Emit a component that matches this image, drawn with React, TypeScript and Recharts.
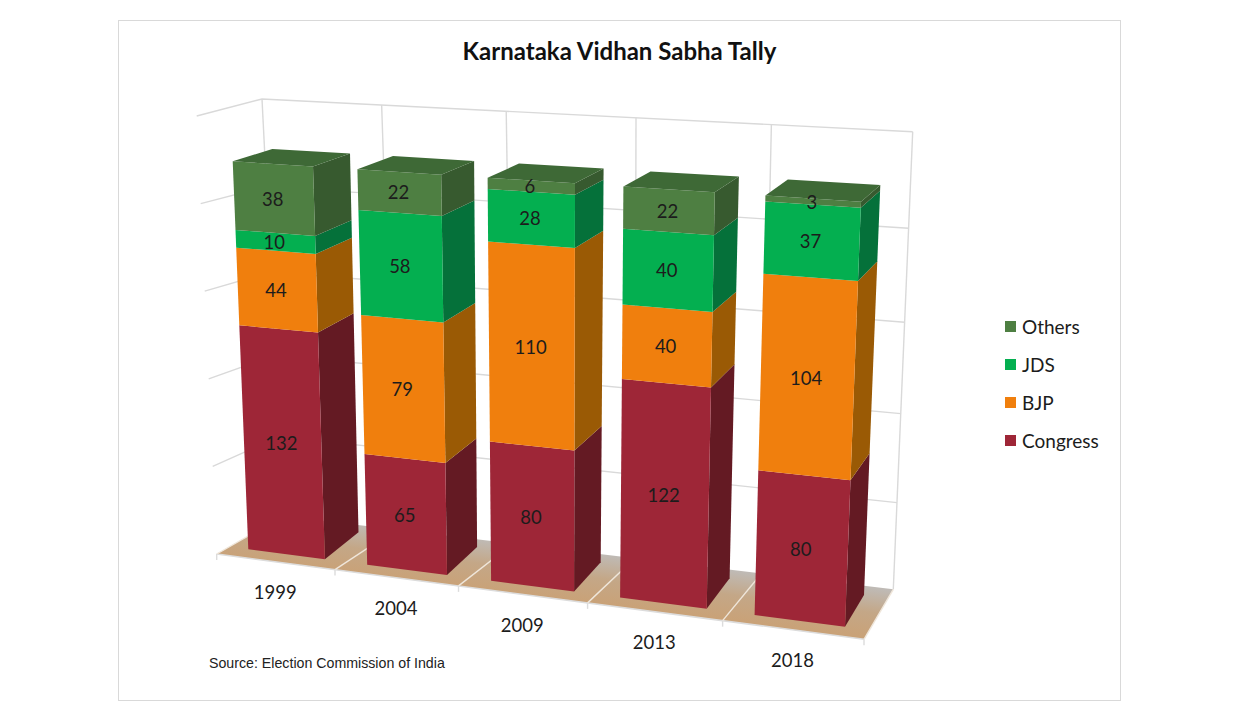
import { BarChart, Bar, XAxis, YAxis, CartesianGrid, Legend, LabelList } from 'recharts'

const years = ['1999', '2004', '2009', '2013', '2018']
const congress = [132, 65, 80, 122, 80]
const bjp = [44, 79, 110, 40, 104]
const jds = [10, 58, 28, 40, 37]
const others = [38, 22, 6, 22, 3]
const yTicks = [0, 50, 100, 150, 200, 250]
const legendOrder = ['Others', 'JDS', 'BJP', 'Congress']

const data = years.map((year, i) => ({
    year,
    Congress: congress[i],
    BJP: bjp[i],
    JDS: jds[i],
    Others: others[i],
}))

// flat plot rectangle recharts lays the chart out in
const PLOT = { left: 200, right: 940, top: 100, bottom: 600 }
const PLOT_W = PLOT.right - PLOT.left
const PLOT_H = PLOT.bottom - PLOT.top
const BAR_GAP = 26
const BAR_LEFT = PLOT.left + BAR_GAP
const BAR_RIGHT = PLOT.right - BAR_GAP
const TOTAL = 224
const TOTAL_PX = (TOTAL / 250) * PLOT_H

type P = [number, number]

// unit square -> quad (bottom-left, bottom-right, top-right, top-left)
function quad(p0: P, p1: P, p2: P, p3: P) {
    const dx1 = p1[0] - p2[0], dx2 = p3[0] - p2[0], sx = p0[0] - p1[0] + p2[0] - p3[0]
    const dy1 = p1[1] - p2[1], dy2 = p3[1] - p2[1], sy = p0[1] - p1[1] + p2[1] - p3[1]
    const den = dx1 * dy2 - dx2 * dy1
    const g = (sx * dy2 - dx2 * sy) / den
    const h = (dx1 * sy - sx * dy1) / den
    const a = p1[0] - p0[0] + g * p1[0], b = p3[0] - p0[0] + h * p3[0]
    const d = p1[1] - p0[1] + g * p1[1], e = p3[1] - p0[1] + h * p3[1]
    return (s: number, t: number): P => {
        const w = g * s + h * t + 1
        return [(a * s + b * t + p0[0]) / w, (d * s + e * t + p0[1]) / w]
    }
}

// perspective planes
const frontPlane = quad([248.3, 549.3], [845, 626.7], [861, 201.7], [232.7, 161.3])
const backPlane = quad([284, 523], [864, 595], [880.3, 185], [272.3, 149])
const wall = quad([283, 516], [893.3, 589.3], [912.7, 131.7], [262, 99])
const floorFL: P = [216.7, 554]
const floorFR: P = [864, 639.3]
const sideTop: P = [196.7, 116]

// front edge of the floor, foreshortened along its length
const floorEdge = (s: number): P => {
    const k = (s * (1 - 0.1055)) / (1 - 0.1055 * s)
    return [floorFL[0] + (floorFR[0] - floorFL[0]) * k, floorFL[1] + (floorFR[1] - floorFL[1]) * k]
}

const barS = (x: number) => (x - BAR_LEFT) / (BAR_RIGHT - BAR_LEFT)
const barT = (y: number) => (PLOT.bottom - y) / TOTAL_PX
const front = (x: number, y: number) => frontPlane(barS(x), barT(y))
const back = (x: number, y: number) => backPlane(barS(x), barT(y))
const pts = (list: P[]) => list.map((p) => `${p[0].toFixed(1)},${p[1].toFixed(1)}`).join(' ')

function Block(props: any) {
    const { x, y, width, height, fill, sideFill, topFill } = props
    const r = x + width
    const b = y + height
    return (
        <g>
            <polygon points={pts([back(r, y), back(r, b), front(r, b), front(r, y)])} fill={sideFill} />
            <polygon points={pts([front(x, y), front(r, y), front(r, b), front(x, b)])} fill={fill} />
            {topFill && <polygon points={pts([front(x, y), back(x, y), back(r, y), front(r, y)])} fill={topFill} />}
        </g>
    )
}

function BarLabel(props: any) {
    const box = props.viewBox ?? props
    const [cx, cy] = front(box.x + box.width / 2, box.y + box.height / 2)
    return (
        <text x={cx - 1} y={cy} textAnchor="middle" dominantBaseline="central" fontSize={18.5} fontFamily="Lato" fill="#1c1c1c">
            {props.value}
        </text>
    )
}

function WallLine(props: any) {
    const t = (PLOT.bottom - props.y1) / PLOT_H
    const left: P = [floorFL[0] + (sideTop[0] - floorFL[0]) * t, floorFL[1] + (sideTop[1] - floorFL[1]) * t]
    const isBase = Math.abs(t) < 0.001
    return (
        <g key={props.key}>
            {isBase && (
                <>
                    <defs>
                        <linearGradient id="floorFill" gradientUnits="userSpaceOnUse" x1="560" y1="598" x2="566" y2="550">
                            <stop offset="0" stopColor="#c9a278" />
                            <stop offset="0.5" stopColor="#c4a787" />
                            <stop offset="1" stopColor="#bfbab5" />
                        </linearGradient>
                    </defs>
                    <polygon points={pts([floorFL, floorFR, wall(1, 0), wall(0, 0)])} fill="url(#floorFill)" />
                    <line x1={floorFL[0]} y1={floorFL[1]} x2={floorFR[0]} y2={floorFR[1]} stroke="#dcdcdc" strokeWidth={1.5} />
                </>
            )}
            {!isBase && <polyline points={pts([left, wall(0, t), wall(1, t)])} fill="none" stroke="#d9d9d9" strokeWidth={1.4} />}
        </g>
    )
}

function WallColumn(props: any) {
    const s = (props.x1 - PLOT.left) / PLOT_W
    const foot = floorEdge(s)
    const base = wall(s, 0)
    const head = wall(s, 1)
    return (
        <g key={props.key}>
            <line x1={head[0]} y1={head[1]} x2={base[0]} y2={base[1]} stroke="#d9d9d9" strokeWidth={1.4} />
            <line x1={base[0]} y1={base[1]} x2={foot[0]} y2={foot[1]} stroke="#efe6da" strokeWidth={1.4} />
            <line x1={foot[0]} y1={foot[1]} x2={foot[0]} y2={foot[1] + 6} stroke="#dcdcdc" strokeWidth={1.4} />
        </g>
    )
}

function YearTick(props: any) {
    const [x, y] = floorEdge((props.x - PLOT.left) / PLOT_W)
    return (
        <text x={x} y={y + 30.5} textAnchor="middle" dominantBaseline="central" fontSize={18.5} fontFamily="Lato" fill="#1c1c1c">
            {props.payload.value}
        </text>
    )
}

function LegendBox(props: any) {
    const items = legendOrder.map((name) => (props.payload ?? []).find((p: any) => p.value === name)).filter(Boolean)
    return (
        <div>
            {items.map((item: any) => (
                <div key={item.value} style={{ display: 'flex', alignItems: 'center', height: 38 }}>
                    <span style={{ width: 11, height: 11, background: item.color, marginRight: 6 }} />
                    <span style={{ font: '19px Lato', color: '#1c1c1c' }}>{item.value}</span>
                </div>
            ))}
        </div>
    )
}

export default function App() {
    return (
        <div style={{ position: 'absolute', left: 0, top: 0, width: 1240, height: 721, background: '#fff', overflow: 'hidden' }}>
            <div style={{ position: 'absolute', left: 118, top: 20, width: 1001, height: 679, border: '1px solid #d9d9d9' }} />
            <BarChart
                width={1240}
                height={721}
                data={data}
                barCategoryGap={BAR_GAP}
                margin={{ top: PLOT.top, left: PLOT.left, right: 1240 - PLOT.right, bottom: 721 - PLOT.bottom - 20 }}
            >
                <CartesianGrid
                    horizontal={(p: any) => <WallLine {...p} />}
                    vertical={(p: any) => <WallColumn {...p} />}
                    verticalPoints={years.map((_, i) => PLOT.left + (PLOT_W * i) / years.length).concat(PLOT.right)}
                />
                <XAxis dataKey="year" height={20} axisLine={false} tickLine={false} tick={(p: any) => <YearTick {...p} />} interval={0} />
                <YAxis hide domain={[0, 250]} ticks={yTicks} />
                <Legend
                    layout="vertical"
                    align="center"
                    verticalAlign="middle"
                    content={(p: any) => <LegendBox {...p} />}
                    wrapperStyle={{ left: 1005, top: 307, width: 110, height: 152 }}
                />
                <Bar dataKey="Congress" stackId="a" fill="#9e2637" isAnimationActive={false} shape={(p: any) => <Block {...p} sideFill="#641a23" />}>
                    <LabelList dataKey="Congress" content={(p: any) => <BarLabel {...p} />} />
                </Bar>
                <Bar dataKey="BJP" stackId="a" fill="#f07f0d" isAnimationActive={false} shape={(p: any) => <Block {...p} sideFill="#9a5a05" />}>
                    <LabelList dataKey="BJP" content={(p: any) => <BarLabel {...p} />} />
                </Bar>
                <Bar dataKey="JDS" stackId="a" fill="#04af50" isAnimationActive={false} shape={(p: any) => <Block {...p} sideFill="#05713a" />}>
                    <LabelList dataKey="JDS" content={(p: any) => <BarLabel {...p} />} />
                </Bar>
                <Bar dataKey="Others" stackId="a" fill="#4e7f42" isAnimationActive={false} shape={(p: any) => <Block {...p} sideFill="#375a2f" topFill="#3e6936" />}>
                    <LabelList dataKey="Others" content={(p: any) => <BarLabel {...p} />} />
                </Bar>
            </BarChart>
            <div style={{ position: 'absolute', left: 118, width: 1003, top: 36, textAlign: 'center', font: 'bold 24px Lato', color: '#111' }}>
                Karnataka Vidhan Sabha Tally
            </div>
            <div style={{ position: 'absolute', left: 209, top: 655, font: '14.2px "Liberation Sans"', color: '#222' }}>
                Source: Election Commission of India
            </div>
        </div>
    )
}
